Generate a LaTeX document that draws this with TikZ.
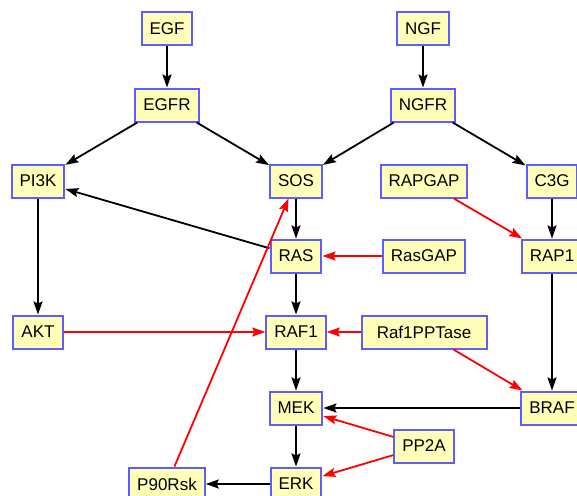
\documentclass[tikz,border=0pt]{standalone}
\usepackage{fontspec}
\setmainfont{Liberation Sans}
\usepackage{xcolor}
\usetikzlibrary{arrows.meta}
\definecolor{boxfill}{HTML}{FFFFBA}
\definecolor{boxline}{HTML}{5E5EFF}
\begin{document}
\begin{tikzpicture}[x=1pt,y=-1pt,
		prot/.style={rectangle,draw=boxline,fill=boxfill,line width=2pt,minimum height=33pt,inner xsep=8pt,font=\fontsize{17}{20}\selectfont},
		act/.style={draw=black,line width=1.8pt,-{Stealth[length=13pt,width=9pt,inset=2pt]}},
		inh/.style={draw=red,line width=1.8pt,-{Stealth[length=13pt,width=9pt,inset=2pt]}}]
            		\useasboundingbox (0,0) rectangle (577,495);
            		\node (egf) at (167,29) [prot] {EGF};
            		\node (ngf) at (423,29) [prot] {NGF};
            		\node (egfr) at (167,105) [prot] {EGFR};
            		\node (ngfr) at (423,105) [prot] {NGFR};
            		\node (pik) at (38,181) [prot] {PI3K};
            		\node (sos) at (296,181) [prot] {SOS};
            		\node (rapgap) at (424,181) [prot] {RAPGAP};
            		\node (cg) at (552,181) [prot] {C3G};
            		\node (ras) at (296,256) [prot] {RAS};
            		\node (rasgap) at (424,256) [prot] {RasGAP};
            		\node (rap) at (552,256) [prot] {RAP1};
            		\node (akt) at (38,332) [prot] {AKT};
            		\node (raf) at (296,332) [prot] {RAF1};
            		\node (ppt) at (424,332) [prot,minimum width=125pt] {Raf1PPTase};
            		\node (mek) at (296,408) [prot] {MEK};
            		\node (braf) at (552,408) [prot] {BRAF};
            		\node (pp) at (424,446) [prot] {PP2A};
            		\node (erk) at (296,484) [prot] {ERK};
            		\node (rsk) at (167,484) [prot] {P90Rsk};

            		\path[act] (egf) -- (egfr);
            		\path[act] (ngf) -- (ngfr);
            		\path[act] (egfr) -- (pik);
            		\path[act] (egfr) -- (sos);
            		\path[act] (ngfr) -- (sos);
            		\path[act] (ngfr) -- (cg);
            		\path[act] (ras) -- (pik);
            		\path[act] (sos) -- (ras);
            		\path[act] (cg) -- (rap);
            		\path[act] (pik) -- (akt);
            		\path[act] (ras) -- (raf);
            		\path[act] (rap) -- (braf);
            		\path[act] (raf) -- (mek);
            		\path[act] (braf) -- (mek);
            		\path[act] (mek) -- (erk);
            		\path[act] (erk) -- (rsk);

            		\path[inh] (rasgap) -- (ras);
            		\path[inh] (rapgap) -- (rap);
            		\path[inh] (akt) -- (raf);
            		\path[inh] (ppt) -- (raf);
            		\path[inh] (ppt) -- (braf);
            		\path[inh] (pp) -- (mek);
            		\path[inh] (pp) -- (erk);
            		\path[inh] (rsk) -- (sos);

        		\end{tikzpicture}
\end{document}
